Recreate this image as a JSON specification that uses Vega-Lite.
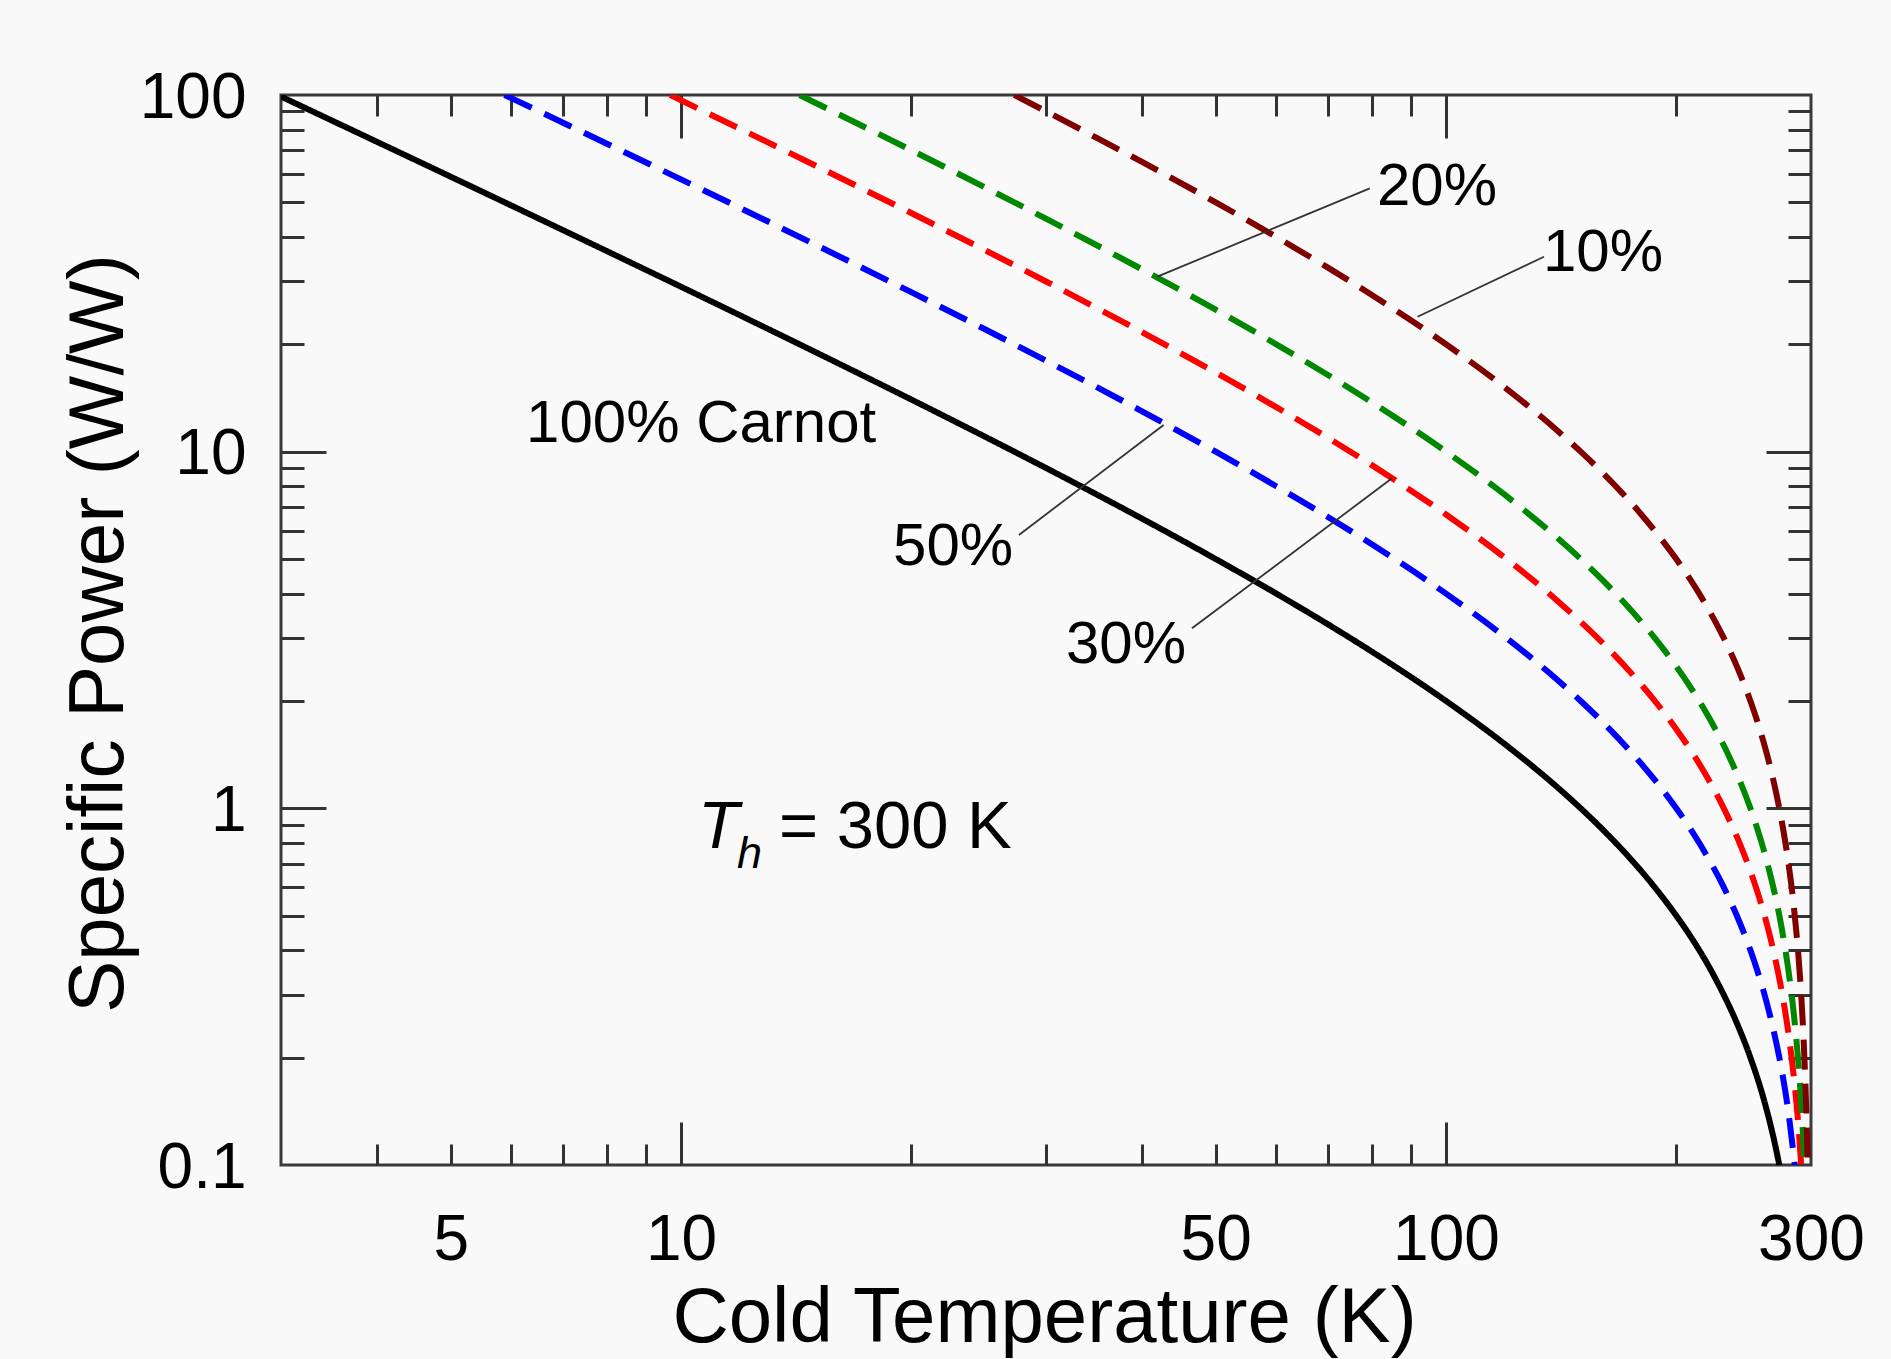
{
  "$schema": "https://vega.github.io/schema/vega-lite/v6.json",
  "width": 1530,
  "height": 1070,
  "autosize": {"type": "none"},
  "padding": {"left": 281, "top": 95, "right": 80, "bottom": 194},
  "background": "#f9f9f9",
  "config": {
    "view": {"stroke": "#3a3a3a", "strokeWidth": 3},
    "font": "Liberation Sans",
    "axis": {
      "grid": false,
      "domain": false,
      "labelFont": "Liberation Sans",
      "titleFont": "Liberation Sans",
      "labelColor": "#000000",
      "titleColor": "#000000",
      "titleFontWeight": "normal",
      "tickColor": "#333333",
      "tickWidth": 3,
      "labelFlush": false,
      "labelOverlap": false
    }
  },
  "datasets": {
    "curves": [
      {"series": "100%", "T": 3, "P": 99},
      {"series": "100%", "T": 4, "P": 74},
      {"series": "100%", "T": 5, "P": 59},
      {"series": "100%", "T": 6, "P": 49},
      {"series": "100%", "T": 8, "P": 36.5},
      {"series": "100%", "T": 10, "P": 29},
      {"series": "100%", "T": 12, "P": 24},
      {"series": "100%", "T": 15, "P": 19},
      {"series": "100%", "T": 20, "P": 14},
      {"series": "100%", "T": 25, "P": 11},
      {"series": "100%", "T": 30, "P": 9},
      {"series": "100%", "T": 40, "P": 6.5},
      {"series": "100%", "T": 50, "P": 5},
      {"series": "100%", "T": 60, "P": 4},
      {"series": "100%", "T": 70, "P": 3.286},
      {"series": "100%", "T": 80, "P": 2.75},
      {"series": "100%", "T": 100, "P": 2},
      {"series": "100%", "T": 120, "P": 1.5},
      {"series": "100%", "T": 140, "P": 1.143},
      {"series": "100%", "T": 150, "P": 1.0},
      {"series": "100%", "T": 160, "P": 0.875},
      {"series": "100%", "T": 180, "P": 0.667},
      {"series": "100%", "T": 190, "P": 0.579},
      {"series": "100%", "T": 200, "P": 0.5},
      {"series": "100%", "T": 210, "P": 0.429},
      {"series": "100%", "T": 220, "P": 0.364},
      {"series": "100%", "T": 230, "P": 0.304},
      {"series": "100%", "T": 240, "P": 0.25},
      {"series": "100%", "T": 250, "P": 0.2},
      {"series": "100%", "T": 260, "P": 0.154},
      {"series": "100%", "T": 265, "P": 0.132},
      {"series": "100%", "T": 270, "P": 0.111},
      {"series": "100%", "T": 272.7, "P": 0.1},
      {"series": "50%", "T": 5.88, "P": 100},
      {"series": "50%", "T": 6, "P": 98},
      {"series": "50%", "T": 8, "P": 73},
      {"series": "50%", "T": 10, "P": 58},
      {"series": "50%", "T": 12, "P": 48},
      {"series": "50%", "T": 15, "P": 38},
      {"series": "50%", "T": 20, "P": 28},
      {"series": "50%", "T": 25, "P": 22},
      {"series": "50%", "T": 30, "P": 18},
      {"series": "50%", "T": 40, "P": 13},
      {"series": "50%", "T": 50, "P": 10},
      {"series": "50%", "T": 60, "P": 8},
      {"series": "50%", "T": 70, "P": 6.571},
      {"series": "50%", "T": 80, "P": 5.5},
      {"series": "50%", "T": 100, "P": 4},
      {"series": "50%", "T": 120, "P": 3},
      {"series": "50%", "T": 140, "P": 2.286},
      {"series": "50%", "T": 150, "P": 2},
      {"series": "50%", "T": 160, "P": 1.75},
      {"series": "50%", "T": 180, "P": 1.333},
      {"series": "50%", "T": 190, "P": 1.158},
      {"series": "50%", "T": 200, "P": 1},
      {"series": "50%", "T": 210, "P": 0.857},
      {"series": "50%", "T": 220, "P": 0.727},
      {"series": "50%", "T": 230, "P": 0.609},
      {"series": "50%", "T": 240, "P": 0.5},
      {"series": "50%", "T": 245, "P": 0.449},
      {"series": "50%", "T": 250, "P": 0.4},
      {"series": "50%", "T": 255, "P": 0.353},
      {"series": "50%", "T": 260, "P": 0.308},
      {"series": "50%", "T": 265, "P": 0.264},
      {"series": "50%", "T": 270, "P": 0.222},
      {"series": "50%", "T": 275, "P": 0.182},
      {"series": "50%", "T": 280, "P": 0.143},
      {"series": "50%", "T": 285.7, "P": 0.1},
      {"series": "30%", "T": 9.68, "P": 100},
      {"series": "30%", "T": 10, "P": 96.67},
      {"series": "30%", "T": 12, "P": 80},
      {"series": "30%", "T": 15, "P": 63.33},
      {"series": "30%", "T": 20, "P": 46.67},
      {"series": "30%", "T": 25, "P": 36.67},
      {"series": "30%", "T": 30, "P": 30},
      {"series": "30%", "T": 40, "P": 21.67},
      {"series": "30%", "T": 50, "P": 16.67},
      {"series": "30%", "T": 60, "P": 13.33},
      {"series": "30%", "T": 70, "P": 10.95},
      {"series": "30%", "T": 80, "P": 9.167},
      {"series": "30%", "T": 100, "P": 6.667},
      {"series": "30%", "T": 120, "P": 5},
      {"series": "30%", "T": 140, "P": 3.81},
      {"series": "30%", "T": 150, "P": 3.333},
      {"series": "30%", "T": 160, "P": 2.917},
      {"series": "30%", "T": 180, "P": 2.222},
      {"series": "30%", "T": 190, "P": 1.93},
      {"series": "30%", "T": 200, "P": 1.667},
      {"series": "30%", "T": 210, "P": 1.429},
      {"series": "30%", "T": 220, "P": 1.212},
      {"series": "30%", "T": 230, "P": 1.014},
      {"series": "30%", "T": 240, "P": 0.833},
      {"series": "30%", "T": 245, "P": 0.748},
      {"series": "30%", "T": 250, "P": 0.667},
      {"series": "30%", "T": 255, "P": 0.588},
      {"series": "30%", "T": 260, "P": 0.513},
      {"series": "30%", "T": 265, "P": 0.44},
      {"series": "30%", "T": 270, "P": 0.37},
      {"series": "30%", "T": 275, "P": 0.303},
      {"series": "30%", "T": 280, "P": 0.238},
      {"series": "30%", "T": 285, "P": 0.175},
      {"series": "30%", "T": 288, "P": 0.139},
      {"series": "30%", "T": 291.3, "P": 0.1},
      {"series": "20%", "T": 14.29, "P": 100},
      {"series": "20%", "T": 15, "P": 95},
      {"series": "20%", "T": 20, "P": 70},
      {"series": "20%", "T": 25, "P": 55},
      {"series": "20%", "T": 30, "P": 45},
      {"series": "20%", "T": 40, "P": 32.5},
      {"series": "20%", "T": 50, "P": 25},
      {"series": "20%", "T": 60, "P": 20},
      {"series": "20%", "T": 70, "P": 16.43},
      {"series": "20%", "T": 80, "P": 13.75},
      {"series": "20%", "T": 100, "P": 10},
      {"series": "20%", "T": 120, "P": 7.5},
      {"series": "20%", "T": 140, "P": 5.714},
      {"series": "20%", "T": 150, "P": 5},
      {"series": "20%", "T": 160, "P": 4.375},
      {"series": "20%", "T": 180, "P": 3.333},
      {"series": "20%", "T": 190, "P": 2.895},
      {"series": "20%", "T": 200, "P": 2.5},
      {"series": "20%", "T": 210, "P": 2.143},
      {"series": "20%", "T": 220, "P": 1.818},
      {"series": "20%", "T": 230, "P": 1.522},
      {"series": "20%", "T": 240, "P": 1.25},
      {"series": "20%", "T": 245, "P": 1.122},
      {"series": "20%", "T": 250, "P": 1},
      {"series": "20%", "T": 255, "P": 0.882},
      {"series": "20%", "T": 260, "P": 0.769},
      {"series": "20%", "T": 265, "P": 0.66},
      {"series": "20%", "T": 270, "P": 0.556},
      {"series": "20%", "T": 275, "P": 0.455},
      {"series": "20%", "T": 280, "P": 0.357},
      {"series": "20%", "T": 285, "P": 0.263},
      {"series": "20%", "T": 290, "P": 0.172},
      {"series": "20%", "T": 292, "P": 0.137},
      {"series": "20%", "T": 294.1, "P": 0.1},
      {"series": "10%", "T": 27.27, "P": 100},
      {"series": "10%", "T": 30, "P": 90},
      {"series": "10%", "T": 35, "P": 75.71},
      {"series": "10%", "T": 40, "P": 65},
      {"series": "10%", "T": 50, "P": 50},
      {"series": "10%", "T": 60, "P": 40},
      {"series": "10%", "T": 70, "P": 32.86},
      {"series": "10%", "T": 80, "P": 27.5},
      {"series": "10%", "T": 100, "P": 20},
      {"series": "10%", "T": 120, "P": 15},
      {"series": "10%", "T": 140, "P": 11.43},
      {"series": "10%", "T": 150, "P": 10},
      {"series": "10%", "T": 160, "P": 8.75},
      {"series": "10%", "T": 180, "P": 6.667},
      {"series": "10%", "T": 190, "P": 5.789},
      {"series": "10%", "T": 200, "P": 5},
      {"series": "10%", "T": 210, "P": 4.286},
      {"series": "10%", "T": 220, "P": 3.636},
      {"series": "10%", "T": 230, "P": 3.043},
      {"series": "10%", "T": 240, "P": 2.5},
      {"series": "10%", "T": 245, "P": 2.245},
      {"series": "10%", "T": 250, "P": 2},
      {"series": "10%", "T": 255, "P": 1.765},
      {"series": "10%", "T": 260, "P": 1.538},
      {"series": "10%", "T": 265, "P": 1.321},
      {"series": "10%", "T": 270, "P": 1.111},
      {"series": "10%", "T": 275, "P": 0.909},
      {"series": "10%", "T": 280, "P": 0.714},
      {"series": "10%", "T": 285, "P": 0.526},
      {"series": "10%", "T": 290, "P": 0.345},
      {"series": "10%", "T": 293, "P": 0.239},
      {"series": "10%", "T": 295, "P": 0.169},
      {"series": "10%", "T": 296, "P": 0.135},
      {"series": "10%", "T": 297, "P": 0.101}
    ],
    "leaders": [
      {"label": "20%", "T1": 79.5, "P1": 54.75, "T2": 41.95, "P2": 30.95},
      {"label": "10%", "T1": 134.3, "P1": 35.2, "T2": 91.8, "P2": 23.9},
      {"label": "50%", "T1": 27.65, "P1": 5.84, "T2": 42.74, "P2": 11.88},
      {"label": "30%", "T1": 46.55, "P1": 3.198, "T2": 85.0, "P2": 8.42}
    ],
    "labels": [
      {"label": "100% Carnot", "T": 6.272, "P": 10.66},
      {"label": "20%", "T": 81.24, "P": 49.16},
      {"label": "10%", "T": 133.9, "P": 32.17},
      {"label": "50%", "T": 18.93, "P": 4.811},
      {"label": "30%", "T": 31.86, "P": 2.551}
    ]
  },
  "resolve": {"axis": {"x": "independent", "y": "independent"}},
  "layer": [
    {
      "data": {"name": "curves"},
      "mark": {"type": "line", "strokeWidth": 6, "clip": true, "strokeCap": "butt", "interpolate": "monotone"},
      "encoding": {
        "x": {
          "field": "T", "type": "quantitative",
          "scale": {"type": "log", "domain": [3, 300], "nice": false},
          "axis": {
            "orient": "bottom", "values": [5, 10, 50, 100, 300], "format": "~g",
            "ticks": false, "labelFontSize": 64, "labelPadding": 43,
            "title": "Cold Temperature (K)", "titleFontSize": 78,
            "titleBaseline": "alphabetic", "titleAlign": "center", "titleX": 763, "titleY": 176
          }
        },
        "y": {
          "field": "P", "type": "quantitative",
          "scale": {"type": "log", "domain": [0.1, 100], "nice": false},
          "axis": {
            "orient": "left", "values": [0.1, 1, 10, 100], "format": "~g",
            "ticks": false, "labelFontSize": 64, "labelPadding": 35, "labelOffset": 3,
            "title": "Specific Power (W/W)", "titleFontSize": 78, "titleAngle": 270,
            "titleBaseline": "alphabetic", "titleAlign": "center", "titleX": -159, "titleY": 538
          }
        },
        "color": {
          "field": "series", "type": "nominal",
          "scale": {"domain": ["100%", "50%", "30%", "20%", "10%"], "range": ["#000000", "#0000ff", "#ff0000", "#008800", "#800000"]},
          "legend": null
        },
        "strokeDash": {
          "field": "series", "type": "nominal",
          "scale": {"domain": ["100%", "50%", "30%", "20%", "10%"], "range": [[1, 0], [30, 14], [30, 14], [30, 14], [30, 14]]},
          "legend": null
        }
      }
    },
    {
      "data": {"name": "leaders"},
      "mark": {"type": "rule", "strokeWidth": 1.8, "color": "#333333"},
      "encoding": {
        "x": {
          "field": "T1", "type": "quantitative",
          "scale": {"type": "log", "domain": [3, 300], "nice": false},
          "axis": {"orient": "bottom", "values": [10, 100], "labels": false, "title": null, "tickSize": -43}
        },
        "y": {
          "field": "P1", "type": "quantitative",
          "scale": {"type": "log", "domain": [0.1, 100], "nice": false},
          "axis": {"orient": "left", "values": [1, 10], "labels": false, "title": null, "tickSize": -45}
        },
        "x2": {"field": "T2"},
        "y2": {"field": "P2"}
      }
    },
    {
      "data": {"name": "labels"},
      "mark": {"type": "text", "align": "left", "baseline": "alphabetic", "fontSize": 60, "font": "Liberation Sans", "color": "#000000"},
      "encoding": {
        "x": {
          "field": "T", "type": "quantitative",
          "scale": {"type": "log", "domain": [3, 300], "nice": false},
          "axis": {"orient": "bottom", "values": [4, 5, 6, 7, 8, 9, 20, 30, 40, 50, 60, 70, 80, 90, 200], "labels": false, "title": null, "tickSize": -21}
        },
        "y": {
          "field": "P", "type": "quantitative",
          "scale": {"type": "log", "domain": [0.1, 100], "nice": false},
          "axis": {"orient": "left", "values": [0.2, 0.3, 0.4, 0.5, 0.6, 0.7, 0.8, 0.9, 2, 3, 4, 5, 6, 7, 8, 9, 20, 30, 40, 50, 60, 70, 80, 90], "labels": false, "title": null, "tickSize": -23}
        },
        "text": {"field": "label"}
      }
    },
    {
      "data": {"values": [{"label": "T", "T": 10.525, "P": 0.7739}]},
      "mark": {"type": "text", "align": "left", "baseline": "alphabetic", "fontSize": 67, "fontStyle": "italic", "font": "Liberation Sans", "color": "#000000"},
      "encoding": {
        "x": {
          "field": "T", "type": "quantitative",
          "scale": {"type": "log", "domain": [3, 300], "nice": false},
          "axis": {"orient": "top", "values": [10, 100], "labels": false, "title": null, "tickSize": -43}
        },
        "y": {
          "field": "P", "type": "quantitative",
          "scale": {"type": "log", "domain": [0.1, 100], "nice": false},
          "axis": {"orient": "right", "values": [1, 10], "labels": false, "title": null, "tickSize": -45}
        },
        "text": {"field": "label"}
      }
    },
    {
      "data": {"values": [{"label": "h", "T": 11.84, "P": 0.6804}]},
      "mark": {"type": "text", "align": "left", "baseline": "alphabetic", "fontSize": 45, "fontStyle": "italic", "font": "Liberation Sans", "color": "#000000"},
      "encoding": {
        "x": {
          "field": "T", "type": "quantitative",
          "scale": {"type": "log", "domain": [3, 300], "nice": false},
          "axis": {"orient": "top", "values": [4, 5, 6, 7, 8, 9, 20, 30, 40, 50, 60, 70, 80, 90, 200], "labels": false, "title": null, "tickSize": -21}
        },
        "y": {
          "field": "P", "type": "quantitative",
          "scale": {"type": "log", "domain": [0.1, 100], "nice": false},
          "axis": {"orient": "right", "values": [0.2, 0.3, 0.4, 0.5, 0.6, 0.7, 0.8, 0.9, 2, 3, 4, 5, 6, 7, 8, 9, 20, 30, 40, 50, 60, 70, 80, 90], "labels": false, "title": null, "tickSize": -23}
        },
        "text": {"field": "label"}
      }
    },
    {
      "data": {"values": [{"label": "= 300 K", "T": 13.43, "P": 0.7739}]},
      "mark": {"type": "text", "align": "left", "baseline": "alphabetic", "fontSize": 67, "font": "Liberation Sans", "color": "#000000"},
      "encoding": {
        "x": {
          "field": "T", "type": "quantitative",
          "scale": {"type": "log", "domain": [3, 300], "nice": false},
          "axis": null
        },
        "y": {
          "field": "P", "type": "quantitative",
          "scale": {"type": "log", "domain": [0.1, 100], "nice": false},
          "axis": null
        },
        "text": {"field": "label"}
      }
    }
  ]
}
